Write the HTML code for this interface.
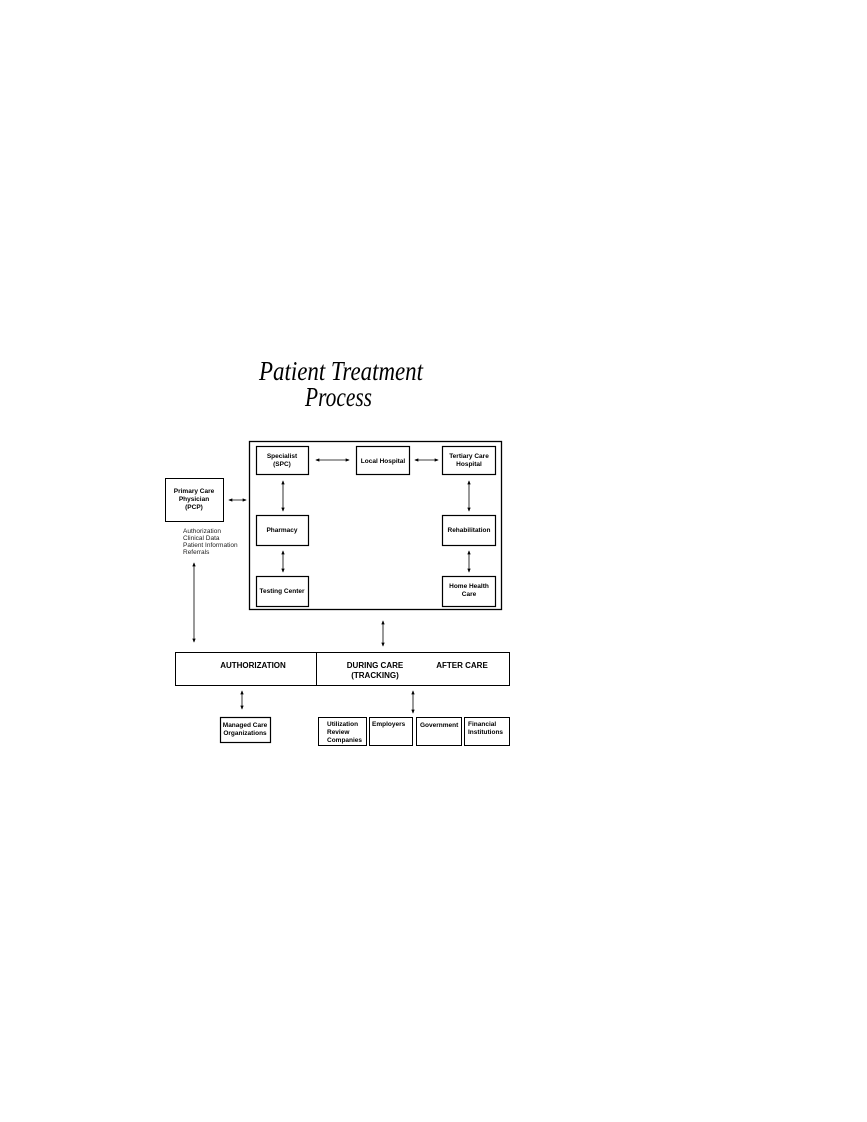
<!DOCTYPE html>
<html><head><meta charset="utf-8"><style>
html,body{margin:0;padding:0;background:#fff;}
svg{display:block;}
.b{font-family:"Liberation Sans",sans-serif;font-weight:bold;font-size:6.5px;fill:#000;}
.n{font-family:"Liberation Sans",sans-serif;font-size:6.5px;fill:#222;}
.h{font-family:"Liberation Sans",sans-serif;font-weight:bold;font-size:8px;fill:#000;}
.t{font-family:"Liberation Serif",serif;font-style:italic;font-size:27px;fill:#000;}
</style></head><body>
<svg width="867" height="1122" viewBox="0 0 867 1122" xmlns="http://www.w3.org/2000/svg">
<defs>
<marker id="a" viewBox="0 0 6 6" refX="5" refY="3" markerWidth="5" markerHeight="5" orient="auto-start-reverse"><path d="M0,0.5 L6,3 L0,5.5z" fill="#000"/></marker>
</defs>
<text class="t" x="259" y="380" textLength="164" lengthAdjust="spacingAndGlyphs">Patient Treatment</text>
<text class="t" x="305" y="406" textLength="67" lengthAdjust="spacingAndGlyphs">Process</text>
<g fill="none" stroke="#000">
<rect x="249.5" y="441.5" width="252" height="168" stroke-width="1.3"/>
<rect x="256.5" y="446.5" width="52" height="28" stroke-width="1.2"/>
<rect x="356.5" y="446.5" width="53" height="28" stroke-width="1.2"/>
<rect x="442.5" y="446.5" width="53" height="28" stroke-width="1.2"/>
<rect x="256.5" y="515.5" width="52" height="30" stroke-width="1.2"/>
<rect x="442.5" y="515.5" width="53" height="30" stroke-width="1.2"/>
<rect x="256.5" y="576.5" width="52" height="30" stroke-width="1.2"/>
<rect x="442.5" y="576.5" width="53" height="30" stroke-width="1.2"/>
<rect x="165.5" y="478.5" width="58" height="43" stroke-width="1"/>
<rect x="175.5" y="652.5" width="334" height="33" stroke-width="1"/>
<line x1="316.5" y1="652" x2="316.5" y2="686" stroke-width="1"/>
<rect x="220.5" y="717.5" width="50" height="25" stroke-width="1.2"/>
<rect x="318.5" y="717.5" width="48" height="28" stroke-width="1"/>
<rect x="369.5" y="717.5" width="43" height="28" stroke-width="1"/>
<rect x="416.5" y="717.5" width="45" height="28" stroke-width="1"/>
<rect x="464.5" y="717.5" width="45" height="28" stroke-width="1"/>
<g stroke-width="0.8" marker-start="url(#a)" marker-end="url(#a)">
<line x1="229" y1="500" x2="246" y2="500"/>
<line x1="316" y1="460" x2="349" y2="460"/>
<line x1="415" y1="460" x2="438" y2="460"/>
<line x1="283" y1="481" x2="283" y2="511"/>
<line x1="283" y1="551" x2="283" y2="572"/>
<line x1="469" y1="481" x2="469" y2="511"/>
<line x1="469" y1="551" x2="469" y2="572"/>
<line x1="194" y1="563" x2="194" y2="642"/>
<line x1="383" y1="621" x2="383" y2="646"/>
<line x1="242" y1="691" x2="242" y2="709"/>
<line x1="413" y1="691" x2="413" y2="713"/>
</g>
</g>
<text class="b" x="282" y="458" text-anchor="middle">Specialist</text>
<text class="b" x="282" y="466" text-anchor="middle">(SPC)</text>
<text class="b" x="383" y="463" text-anchor="middle">Local Hospital</text>
<text class="b" x="469" y="458" text-anchor="middle">Tertiary Care</text>
<text class="b" x="469" y="466" text-anchor="middle">Hospital</text>
<text class="b" x="282" y="532" text-anchor="middle">Pharmacy</text>
<text class="b" x="469" y="532" text-anchor="middle">Rehabilitation</text>
<text class="b" x="282" y="593" text-anchor="middle">Testing Center</text>
<text class="b" x="469" y="588" text-anchor="middle">Home Health</text>
<text class="b" x="469" y="596" text-anchor="middle">Care</text>
<text class="b" x="194" y="493" text-anchor="middle">Primary Care</text>
<text class="b" x="194" y="501" text-anchor="middle">Physician</text>
<text class="b" x="194" y="509" text-anchor="middle">(PCP)</text>
<text class="n" x="183" y="533">Authorization</text>
<text class="n" x="183" y="540">Clinical Data</text>
<text class="n" x="183" y="547">Patient Information</text>
<text class="n" x="183" y="554">Referrals</text>
<text class="h" x="253" y="668" text-anchor="middle">AUTHORIZATION</text>
<text class="h" x="375" y="668" text-anchor="middle">DURING CARE</text>
<text class="h" x="375" y="678" text-anchor="middle">(TRACKING)</text>
<text class="h" x="462" y="668" text-anchor="middle">AFTER CARE</text>
<text class="b" x="245" y="727" text-anchor="middle">Managed Care</text>
<text class="b" x="245" y="735" text-anchor="middle">Organizations</text>
<text class="b" x="327" y="726">Utilization</text>
<text class="b" x="327" y="734">Review</text>
<text class="b" x="327" y="742">Companies</text>
<text class="b" x="372" y="726">Employers</text>
<text class="b" x="420" y="727">Government</text>
<text class="b" x="468" y="726">Financial</text>
<text class="b" x="468" y="734">Institutions</text>
</svg>
</body></html>
